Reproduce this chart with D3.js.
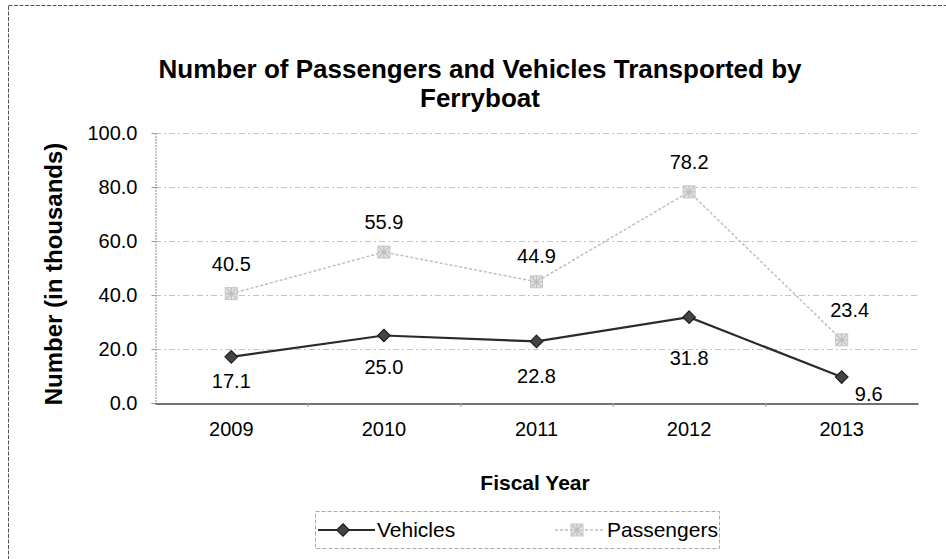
<!DOCTYPE html>
<html>
<head>
<meta charset="utf-8">
<script src="https://cdn.jsdelivr.net/npm/d3@7"></script>
<style>
  html, body { margin: 0; padding: 0; background: #fff; }
  svg { display: block; font-family: "Liberation Sans", Arial, sans-serif; }
</style>
</head>
<body>
<svg id="chart" width="946" height="559"></svg>
<script>
const years = ["2009", "2010", "2011", "2012", "2013"];
const vehicles = [17.1, 25.0, 22.8, 31.8, 9.6];
const passengers = [40.5, 55.9, 44.9, 78.2, 23.4];
const yTicks = [0, 20, 40, 60, 80, 100];

// data-label nudges (pixels) for each point, [dx, dy] of the label centre
const vehicleLabelShift = [[0, 24], [0, 31], [0, 35], [0, 41], [27, 17]];
const passengerLabelShift = [[0, -30], [0, -30], [0, -26], [0, -30], [8, -30]];

const svg = d3.select("#chart");
const W = 946, H = 559;
const plot = { left: 155, right: 918, top: 133, bottom: 403 };
const FONT = "'Liberation Sans', Arial, sans-serif";

// outer chart frame
svg.append("rect")
  .attr("x", 8.5).attr("y", 5.5).attr("width", W + 20).attr("height", H + 20)
  .attr("fill", "none").attr("stroke", "#555").attr("stroke-width", 1)
  .attr("stroke-dasharray", "4,1.5");

const x = d3.scaleBand().domain(years).range([plot.left, plot.right]).padding(0);
const y = d3.scaleLinear().domain([0, 100]).range([plot.bottom, plot.top]);
const cx = d => x(d) + x.bandwidth() / 2;

// title
const title = svg.append("text")
  .attr("text-anchor", "middle").attr("font-weight", "bold").attr("font-size", 26)
  .attr("fill", "#000");
title.append("tspan").attr("x", 480).attr("y", 78).text("Number of Passengers and Vehicles Transported by");
title.append("tspan").attr("x", 480).attr("y", 107).text("Ferryboat");

// horizontal gridlines
svg.append("g").selectAll("line").data(yTicks.filter(t => t > 0)).join("line")
  .attr("x1", plot.left).attr("x2", plot.right)
  .attr("y1", d => y(d) + 0.5).attr("y2", d => y(d) + 0.5)
  .attr("stroke", "#c4c4c4").attr("stroke-width", 1).attr("stroke-dasharray", "6,3,2,3");

// y axis
const yAxis = svg.append("g")
  .attr("transform", `translate(${plot.left + 0.5},0)`)
  .call(d3.axisLeft(y).tickValues(yTicks).tickFormat(d3.format(".1f")).tickSize(4).tickPadding(14));
yAxis.select(".domain").attr("stroke", "#8a8a8a").attr("stroke-dasharray", "2,1");
yAxis.selectAll(".tick line").attr("stroke", "#999");
yAxis.selectAll(".tick text").attr("font-size", 20).attr("fill", "#000").attr("font-family", FONT);

// x axis
const xAxis = svg.append("g")
  .attr("transform", `translate(0,${plot.bottom + 0.5})`)
  .call(d3.axisBottom(x).tickSize(0).tickPadding(18));
xAxis.select(".domain").attr("stroke", "#444").attr("stroke-width", 1.5);
xAxis.selectAll(".tick text").attr("font-size", 20).attr("fill", "#000").attr("font-family", FONT);
// category separators
svg.append("g").selectAll("line").data(years.slice(1)).join("line")
  .attr("x1", d => x(d) + 0.5).attr("x2", d => x(d) + 0.5)
  .attr("y1", plot.bottom).attr("y2", plot.bottom + 4)
  .attr("stroke", "#999");

// axis titles
svg.append("text")
  .attr("transform", `translate(62,${(plot.top + plot.bottom) / 2 + 6}) rotate(-90)`)
  .attr("text-anchor", "middle").attr("font-weight", "bold").attr("font-size", 24)
  .text("Number (in thousands)");
svg.append("text")
  .attr("x", 535).attr("y", 490).attr("text-anchor", "middle")
  .attr("font-weight", "bold").attr("font-size", 21)
  .text("Fiscal Year");

const line = d3.line().x(d => cx(d.year)).y(d => y(d.value));
const vData = years.map((yr, i) => ({ year: yr, value: vehicles[i] }));
const pData = years.map((yr, i) => ({ year: yr, value: passengers[i] }));

// passenger marker: pale square with a cross-hatched star
function passengerMarker(g, px, py) {
  g.append("rect").attr("x", px - 6).attr("y", py - 6).attr("width", 12).attr("height", 12)
    .attr("fill", "#e2e2e2").attr("stroke", "#c6c6c6").attr("stroke-width", 1);
  g.append("path")
    .attr("d", `M${px - 5},${py - 5}L${px + 5},${py + 5}M${px + 5},${py - 5}L${px - 5},${py + 5}M${px - 6},${py}L${px + 6},${py}M${px},${py - 6}L${px},${py + 6}`)
    .attr("stroke", "#bdbdbd").attr("stroke-width", 1.2);
}

// passenger series (light gray)
svg.append("path").datum(pData)
  .attr("d", line).attr("fill", "none")
  .attr("stroke", "#bfbfbf").attr("stroke-width", 1.5).attr("stroke-dasharray", "3,2");
const pm = svg.append("g");
pData.forEach(d => passengerMarker(pm, cx(d.year), y(d.value)));

// vehicle series (dark)
svg.append("path").datum(vData)
  .attr("d", line).attr("fill", "none")
  .attr("stroke", "#2b2b2b").attr("stroke-width", 2.2);
const diamond = d3.symbol().type(d3.symbolDiamond2).size(100);
svg.append("g").selectAll("path").data(vData).join("path")
  .attr("d", diamond)
  .attr("transform", d => `translate(${cx(d.year)},${y(d.value)})`)
  .attr("fill", "#444").attr("stroke", "#1e1e1e").attr("stroke-width", 1.2);

// data labels
const fmt = d3.format(".1f");
svg.append("g").selectAll("text").data(pData).join("text")
  .attr("x", (d, i) => cx(d.year) + passengerLabelShift[i][0])
  .attr("y", (d, i) => y(d.value) + passengerLabelShift[i][1])
  .attr("dy", "0.35em")
  .attr("text-anchor", "middle").attr("font-size", 20).attr("fill", "#000")
  .text(d => fmt(d.value));
svg.append("g").selectAll("text").data(vData).join("text")
  .attr("x", (d, i) => cx(d.year) + vehicleLabelShift[i][0])
  .attr("y", (d, i) => y(d.value) + vehicleLabelShift[i][1])
  .attr("dy", "0.35em")
  .attr("text-anchor", "middle").attr("font-size", 20).attr("fill", "#000")
  .text(d => fmt(d.value));

// legend
const lg = svg.append("g");
lg.append("rect")
  .attr("x", 315.5).attr("y", 511.5).attr("width", 404).attr("height", 37)
  .attr("fill", "none").attr("stroke", "#aaa").attr("stroke-dasharray", "4,2");
lg.append("line").attr("x1", 318).attr("x2", 375).attr("y1", 530).attr("y2", 530)
  .attr("stroke", "#2b2b2b").attr("stroke-width", 2.2);
lg.append("path").attr("d", diamond).attr("transform", "translate(343,530)")
  .attr("fill", "#444").attr("stroke", "#1e1e1e").attr("stroke-width", 1.2);
lg.append("text").attr("x", 377).attr("y", 537).attr("font-size", 21).text("Vehicles");
lg.append("line").attr("x1", 555).attr("x2", 603).attr("y1", 530).attr("y2", 530)
  .attr("stroke", "#bfbfbf").attr("stroke-width", 1.5).attr("stroke-dasharray", "3,2");
passengerMarker(lg, 577, 530);
lg.append("text").attr("x", 607).attr("y", 537).attr("font-size", 21).text("Passengers");
</script>
</body>
</html>
